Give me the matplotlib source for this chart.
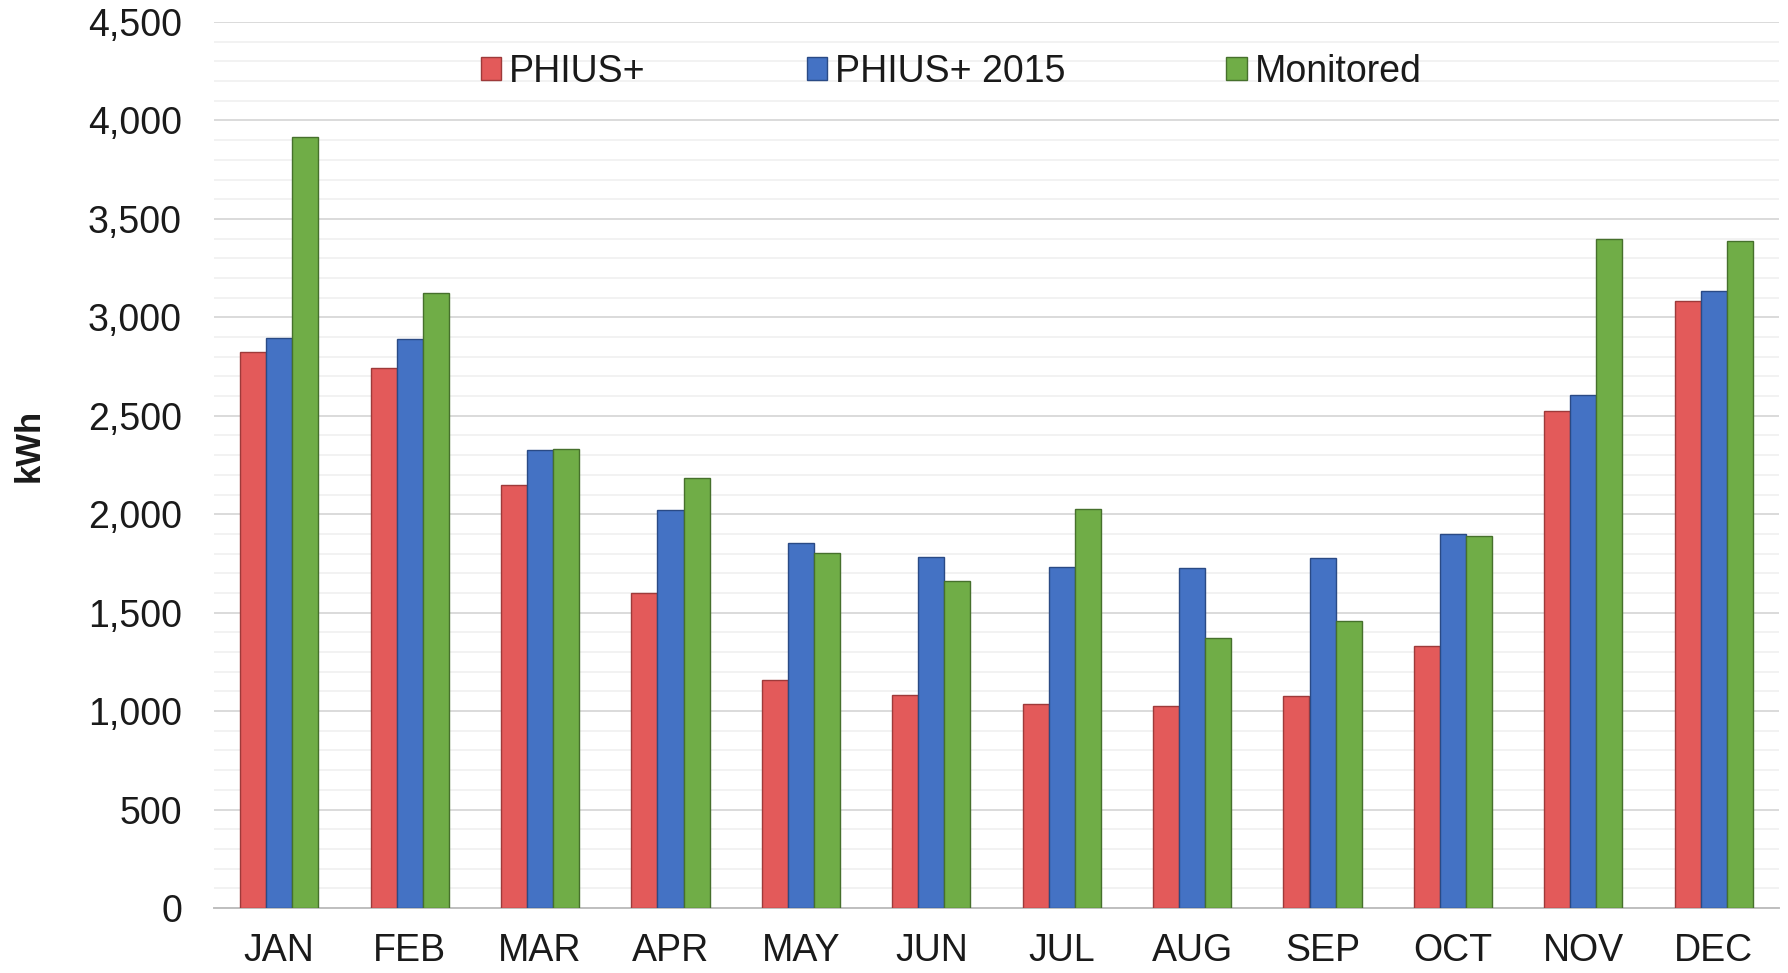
import numpy as np
import matplotlib.pyplot as plt
from matplotlib.ticker import MultipleLocator, FuncFormatter

months = ['JAN', 'FEB', 'MAR', 'APR', 'MAY', 'JUN', 'JUL', 'AUG', 'SEP', 'OCT', 'NOV', 'DEC']
phius_plus = [2826, 2745, 2149, 1598, 1158, 1083, 1037, 1025, 1077, 1332, 2525, 3081]
phius_2015 = [2896, 2890, 2328, 2021, 1853, 1784, 1732, 1726, 1778, 1900, 2606, 3133]
monitored = [3915, 3122, 2330, 2183, 1801, 1662, 2027, 1373, 1459, 1888, 3400, 3388]

series = [
    ('PHIUS+', phius_plus, '#E35A5A', '#9E3A3A'),
    ('PHIUS+ 2015', phius_2015, '#4472C4', '#2A4A85'),
    ('Monitored', monitored, '#70AD47', '#46702C'),
]

plt.rcParams['font.family'] = ['Liberation Sans', 'DejaVu Sans']

fig = plt.figure(figsize=(17.88, 9.73), dpi=100)
ax = fig.add_axes([214 / 1788, 1 - 908 / 973, (1779 - 214) / 1788, (908 - 22) / 973])

x = np.arange(len(months))
w = 0.2
for i, (name, vals, fc, ec) in enumerate(series):
    ax.bar(x + (i - 1) * w, vals, w, color=fc, edgecolor=ec, linewidth=1.0, label=name, zorder=3)

ax.set_xlim(-0.5, 11.5)
ax.set_ylim(0, 4500)
ax.yaxis.set_major_locator(MultipleLocator(500))
ax.yaxis.set_minor_locator(MultipleLocator(100))
ax.yaxis.set_major_formatter(FuncFormatter(lambda v, p: '{:,.0f}'.format(v)))
ax.grid(axis='y', which='major', color='#dadada', linewidth=1.4, zorder=0)
ax.grid(axis='y', which='minor', color='#f0f0f0', linewidth=1.2, zorder=0)
ax.set_axisbelow(True)

ax.set_xticks(x)
ax.set_xticklabels(months)
ax.tick_params(axis='both', which='both', length=0, labelsize=27, colors='#1a1a1a')
ax.tick_params(axis='y', pad=23)
ax.tick_params(axis='x', pad=18)

for s in ['top', 'right', 'left']:
    ax.spines[s].set_visible(False)
ax.spines['bottom'].set_color('#bfbfbf')
ax.spines['bottom'].set_linewidth(1.4)

fig.text(29 / 1788, 1 - 445 / 973, 'kWh', rotation=90, fontsize=25, fontweight='bold',
         ha='center', va='center', color='#1a1a1a')

leg = ax.legend(loc='center', bbox_to_anchor=(951 / 1788, 1 - 72 / 973), bbox_transform=fig.transFigure,
                ncol=3, frameon=False, fontsize=27, columnspacing=4.3, handlelength=0.55,
                handleheight=0.55, handletextpad=0.2, labelcolor='#1a1a1a')

fig.savefig('out.png', dpi=100, facecolor='white')
